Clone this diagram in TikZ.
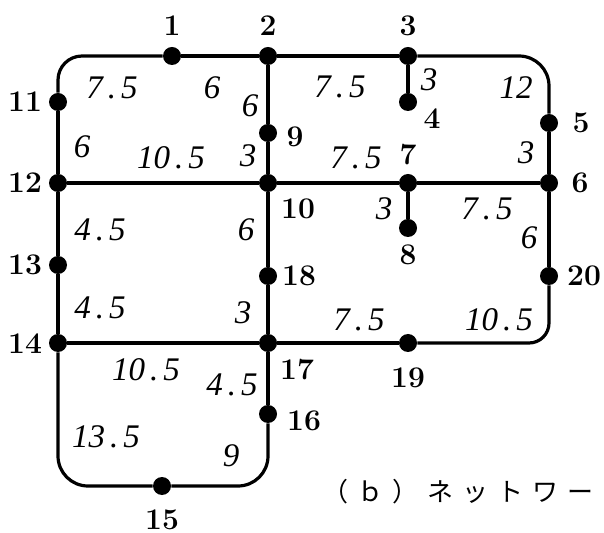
\documentclass[tikz,border=0pt]{standalone}
\usepackage{fontspec}
\usepackage{tikz}
\usetikzlibrary{positioning}
\newfontfamily\jpfont{Noto Sans CJK JP}
\newfontfamily\wtfont{Liberation Serif}
\newcommand{\wdot}{\hspace{2.5pt}.\hspace{2.5pt}}
\definecolor{ink}{RGB}{0,0,0}
\tikzset{
  dot/.style={circle,fill=ink,inner sep=0pt,minimum size=9pt},
  road/.style={line width=1.6pt,ink},
  num/.style={font=\fontsize{15}{15}\selectfont\bfseries,text=ink,inner sep=1pt},
  wt/.style={font=\wtfont\fontsize{16.5}{16.5}\selectfont\itshape,text=ink,inner sep=0pt},
}

\begin{document}
\begin{tikzpicture}[x=0.5pt,y=-0.5pt]
  \useasboundingbox (0,0) rectangle (604,533);
  % junctions
  \node[dot] (n1) at (172,56) {};
  \node[dot] (n2) at (268,56) {};
  \node[dot] (n3) at (408,56) {};
  \node[dot] (n4) at (408,102) {};
  \node[dot] (n5) at (549,123) {};
  \node[dot] (n6) at (549,183) {};
  \node[dot] (n7) at (408,183) {};
  \node[dot] (n8) at (408,228) {};
  \node[dot] (n9) at (268,133) {};
  \node[dot] (n10) at (268,183) {};
  \node[dot] (n11) at (58,102) {};
  \node[dot] (n12) at (58,183) {};
  \node[dot] (n13) at (58,265) {};
  \node[dot] (n14) at (58,343) {};
  \node[dot] (n15) at (162,486) {};
  \node[dot] (n16) at (268,414) {};
  \node[dot] (n17) at (268,343) {};
  \node[dot] (n18) at (268,276) {};
  \node[dot] (n19) at (408,343) {};
  \node[dot] (n20) at (549,276) {};
  % roads
  \draw[road,rounded corners=12pt] (n11) |- (n1);
  \draw[road] (n1) -- (n2) -- (n3);
  \draw[road,rounded corners=15pt] (n3) -| (n5);
  \draw[road] (n5) -- (n6) -- (n20);
  \draw[road,rounded corners=10pt] (n20) |- (n19);
  \draw[road] (n19) -- (n17) -- (n14);
  \draw[road] (n14) -- (n13) -- (n12) -- (n11);
  \draw[road] (n12) -- (n10) -- (n7) -- (n6);
  \draw[road] (n2) -- (n9) -- (n10) -- (n18) -- (n17) -- (n16);
  \draw[road] (n3) -- (n4);
  \draw[road] (n7) -- (n8);
  \draw[road,rounded corners=15pt] (n14) |- (n15);
  \draw[road,rounded corners=15pt] (n16) |- (n15);
  % junction numbers
  \node[num] (l1) at (172,26) {1};
  \node[num] (l2) at (268,26) {2};
  \node[num] (l3) at (408,26) {3};
  \node[num] (l4) at (432,119) {4};
  \node[num] (l5) at (581,123) {5};
  \node[num] (l6) at (580,183) {6};
  \node[num] (l7) at (408,155) {7};
  \node[num] (l8) at (408,255) {8};
  \node[num] (l9) at (295,137) {9};
  \node[num] (l10) at (298,209) {10};
  \node[num] (l11) at (25,102) {11};
  \node[num] (l12) at (25,183) {12};
  \node[num] (l13) at (25,265) {13};
  \node[num] (l14) at (25,344) {14};
  \node[num] (l15) at (162,520) {15};
  \node[num] (l16) at (304,421) {16};
  \node[num] (l17) at (297,370) {17};
  \node[num] (l18) at (299,276) {18};
  \node[num] (l19) at (408,378) {19};
  \node[num] (l20) at (584,276) {20};
  % lengths
  \node[wt] (w1) at (112,88) {7\wdot5};
  \node[wt] (w2) at (212,88) {6};
  \node[wt] (w3) at (250,106) {6};
  \node[wt] (w4) at (248,156) {3};
  \node[wt] (w5) at (82,147) {6};
  \node[wt] (w6) at (171,158) {10\wdot5};
  \node[wt] (w7) at (340,87) {7\wdot5};
  \node[wt] (w8) at (429,80) {3};
  \node[wt] (w9) at (516,88) {12};
  \node[wt] (w10) at (356,158) {7\wdot5};
  \node[wt] (w11) at (526,153) {3};
  \node[wt] (w12) at (384,209) {3};
  \node[wt] (w13) at (487,209) {7\wdot5};
  \node[wt] (w14) at (529,238) {6};
  \node[wt] (w15) at (100,230) {4\wdot5};
  \node[wt] (w16) at (246,230) {6};
  \node[wt] (w17) at (100,308) {4\wdot5};
  \node[wt] (w18) at (243,313) {3};
  \node[wt] (w19) at (359,320) {7\wdot5};
  \node[wt] (w20) at (499,320) {10\wdot5};
  \node[wt] (w21) at (146,370) {10\wdot5};
  \node[wt] (w22) at (232,385) {4\wdot5};
  \node[wt] (w23) at (106,437) {13\wdot5};
  \node[wt] (w24) at (231,456) {9};
  % caption
  \node[anchor=west,inner sep=0pt,font=\jpfont\fontsize{13}{13}\selectfont] (cap) at (322,492)
    {（\hspace{4.5pt}ｂ\hspace{4.5pt}）\hspace{4.5pt}ネ\hspace{4.5pt}ッ\hspace{4.5pt}ト\hspace{4.5pt}ワ\hspace{4.5pt}ー};
\end{tikzpicture}
\end{document}
